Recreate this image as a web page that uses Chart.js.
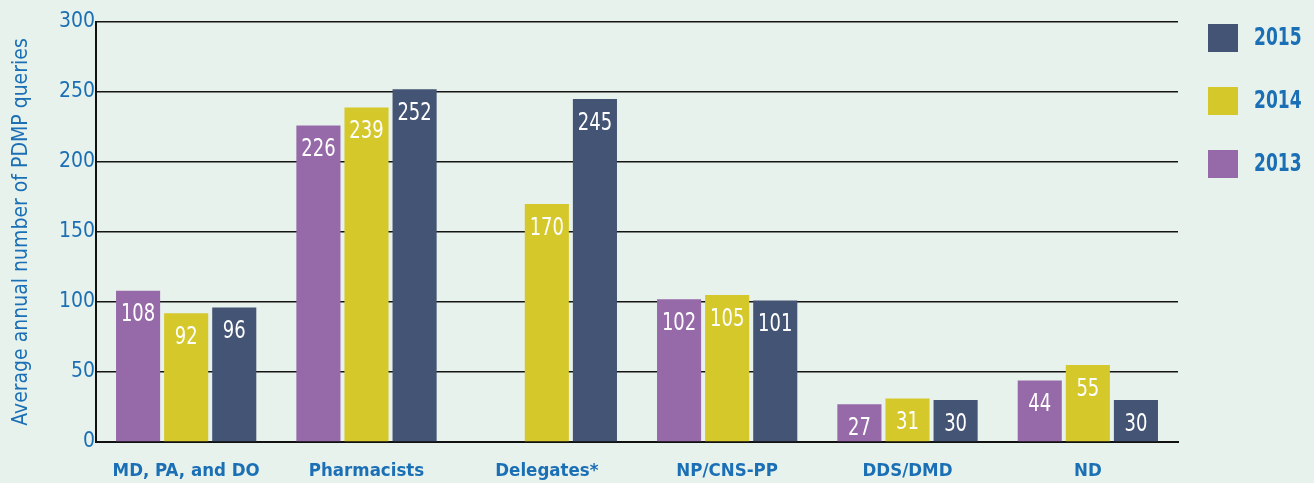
<!DOCTYPE html>
<html>
<head>
<meta charset="utf-8">
<script src="https://cdn.jsdelivr.net/npm/chart.js@4/dist/chart.umd.min.js"></script>
<style>
html,body{margin:0;padding:0;background:#e8f2ed;}
#wrap{width:1314px;height:483px;position:relative;}
</style>
</head>
<body>
<div id="wrap"><canvas id="c" width="1314" height="483"></canvas></div>
<script>
const categories = ["MD, PA, and DO", "Pharmacists", "Delegates*", "NP/CNS-PP", "DDS/DMD", "ND"];
const values2013 = [108, 226, null, 102, 27, 44];
const values2014 = [92, 239, 170, 105, 31, 55];
const values2015 = [96, 252, 245, 101, 30, 30];
const yTicks = [0, 50, 100, 150, 200, 250, 300];

const FONT = '"DejaVu Sans Condensed", "Liberation Sans Narrow", sans-serif';
const BLUE = '#1a6fb5';

function squeezeText(ctx, text, x, y, sx) {
  ctx.save();
  ctx.translate(x, y);
  ctx.scale(sx, 1);
  ctx.fillText(text, 0, 0);
  ctx.restore();
}

const barLabels = {
  id: 'barLabels',
  afterDatasetsDraw(chart) {
    const ctx = chart.ctx;
    ctx.save();
    ctx.fillStyle = '#ffffff';
    ctx.font = '25px ' + FONT;
    ctx.textAlign = 'center';
    ctx.textBaseline = 'middle';
    chart.data.datasets.forEach((ds, i) => {
      const meta = chart.getDatasetMeta(i);
      meta.data.forEach((el, j) => {
        const v = ds.data[j];
        if (v === null || v === undefined) return;
        squeezeText(ctx, String(v), el.x, el.y + 24, 0.8);
      });
    });
    ctx.restore();
  }
};

const sideLegend = {
  id: 'sideLegend',
  afterDraw(chart) {
    const ctx = chart.ctx;
    ctx.save();
    const ds = chart.data.datasets.slice().reverse();
    ds.forEach((d, k) => {
      const top = 24 + k * 63;
      ctx.fillStyle = d.backgroundColor;
      ctx.fillRect(1208, top, 30, 28);
      ctx.fillStyle = BLUE;
      ctx.font = 'bold 25px ' + FONT;
      ctx.textAlign = 'left';
      ctx.textBaseline = 'middle';
      squeezeText(ctx, d.label, 1254, top + 14, 0.76);
    });
    ctx.restore();
  }
};

new Chart(document.getElementById('c'), {
  type: 'bar',
  data: {
    labels: categories,
    datasets: [
      {label: '2013', data: values2013, backgroundColor: '#9669a8'},
      {label: '2014', data: values2014, backgroundColor: '#d5c82a'},
      {label: '2015', data: values2015, backgroundColor: '#435474'}
    ]
  },
  options: {
    responsive: false,
    animation: false,
    devicePixelRatio: 1,
    layout: {padding: {left: 0, right: 136, top: 22, bottom: 0}},
    datasets: {bar: {categoryPercentage: 0.8, barPercentage: 0.917}},
    plugins: {legend: {display: false}, tooltip: {enabled: false}},
    scales: {
      x: {
        grid: {display: false},
        border: {display: true, color: '#111', width: 2},
        ticks: {color: BLUE, font: {family: FONT, size: 18.5, weight: 'bold'}, padding: 10, maxRotation: 0, autoSkip: false},
        afterFit(s) { s.height = 41; }
      },
      y: {
        min: 0, max: 300,
        afterBuildTicks(s) { s.ticks = yTicks.map(v => ({value: v})); },
        grid: {color: '#141414', lineWidth: 1.6, drawTicks: false},
        border: {display: true, color: '#111', width: 2},
        ticks: {color: BLUE, font: {family: FONT, size: 21}, padding: 1},
        title: {display: true, text: 'Average annual number of PDMP queries', color: BLUE, font: {family: FONT, size: 21}, padding: {top: 9, bottom: 0}},
        afterFit(s) { s.width = 96; }
      }
    }
  },
  plugins: [barLabels, sideLegend]
});
</script>
</body>
</html>
